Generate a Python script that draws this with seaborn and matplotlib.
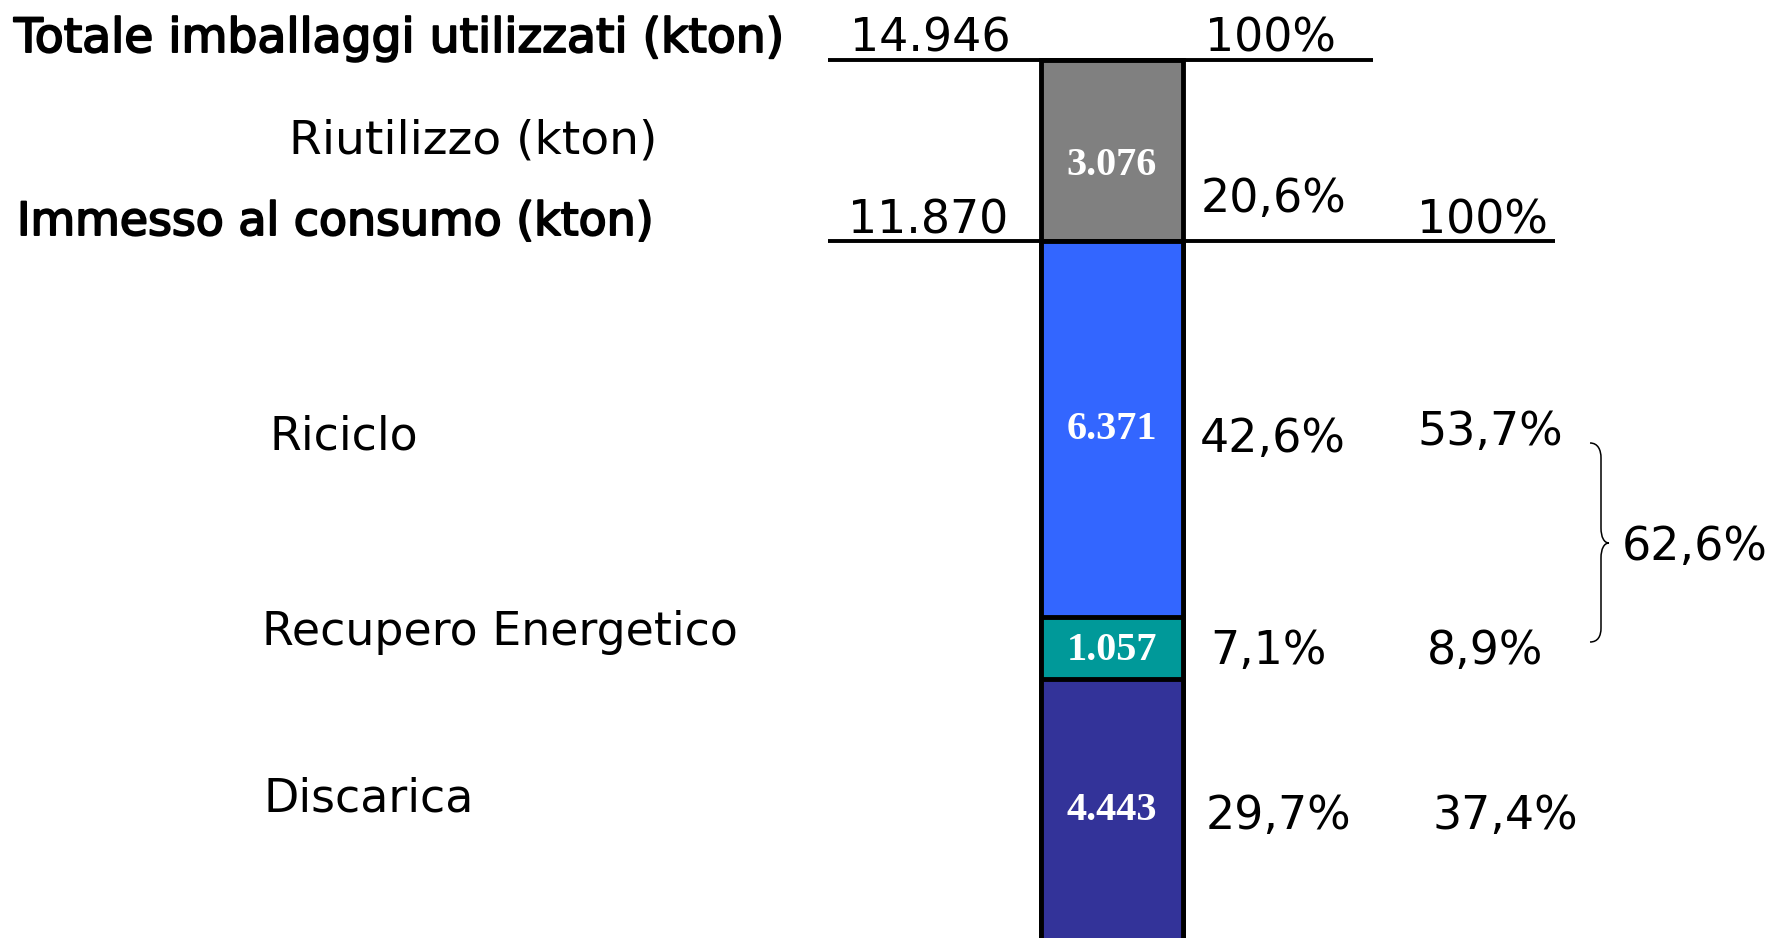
import numpy as np
import pandas as pd
import matplotlib
matplotlib.use("Agg")
import matplotlib.pyplot as plt
import matplotlib.patheffects as pe
from matplotlib.path import Path
from matplotlib.patches import PathPatch
import seaborn as sns

# ---------------------------------------------------------
# Data (kton) - segments listed from bottom to top of the column
# ---------------------------------------------------------
totale_kton = 14946
immesso_kton = 11870
totale_label = "14.946"
immesso_label = "11.870"

segments = ["Discarica", "Recupero Energetico", "Riciclo", "Riutilizzo"]
segment_kton = [4443, 1057, 6371, 3076]
segment_labels = ["4.443", "1.057", "6.371", "3.076"]
pct_totale = ["29,7%", "7,1%", "42,6%", "20,6%"]
pct_immesso = ["37,4%", "8,9%", "53,7%", None]
recupero_pct = "62,6%"
segment_colors = ["#333399", "#009999", "#3366ff", "#808080"]

# ---------------------------------------------------------
# Layout (pixels, origin top-left)
# ---------------------------------------------------------
W, H = 1772, 938
TOP_PX = 60            # where the total sits
BAR_CX, BAR_W = 1112, 142
FS = 33

sns.set_theme(style="white")
plt.rcParams["font.family"] = ["DejaVu Sans"]

fig = plt.figure(figsize=(W / 100, H / 100), dpi=100)
ax = fig.add_axes([0, 0, 1, 1])

# stacked column drawn as overlapping cumulative bars (largest first)
cum = np.cumsum(segment_kton)
df = pd.DataFrame({"voce": ["Imballaggi"] * len(segments),
                   "segmento": segments, "cumulato": cum})
order = segments[::-1]
sns.barplot(data=df, x="voce", y="cumulato", hue="segmento", hue_order=order,
            palette=dict(zip(segments, segment_colors)), dodge=False,
            saturation=1, errorbar=None, width=0.8, edgecolor="black",
            linewidth=3.5, legend=False, ax=ax)

# map the axes so that the column lands where it does in the picture
unit = BAR_W / 0.8
x0 = -BAR_CX / unit
ax.set_xlim(x0, x0 + W / unit)
ybot = 50
f = TOP_PX / H
ytop = (totale_kton - f * ybot) / (1 - f)
ax.set_ylim(ybot, ytop)
ax.axis("off")


def fx(x):
    return x / W


def fy(y):
    return 1 - y / H


def ypx(v):
    return (ytop - v) / (ytop - ybot) * H


# reference lines for the two totals
ax.hlines(totale_kton, fx(828), fx(1373), transform=ax.get_yaxis_transform(),
          color="black", linewidth=2.8, zorder=5)
ax.hlines(immesso_kton, fx(828), fx(1555), transform=ax.get_yaxis_transform(),
          color="black", linewidth=2.8, zorder=5)

bold = [pe.withStroke(linewidth=1.4, foreground="black")]


def txt(s, x, y, ha="left", effects=None, size=FS):
    fig.text(fx(x), fy(y), s, ha=ha, va="baseline", fontsize=size,
             color="black", path_effects=effects)


# row captions
txt("Totale imballaggi utilizzati (kton)", 14, 52, effects=bold, size=34)
txt("Riutilizzo (kton)", 289, 154, size=34)
txt("Immesso al consumo (kton)", 17, 235, effects=bold)
caption_pos = {"Riciclo": (269, 449), "Recupero Energetico": (262, 645),
               "Discarica": (263, 811)}
for name, (x, y) in caption_pos.items():
    txt(name, x, y)

# totals
txt(totale_label, 930, 52, ha="center")
txt(immesso_label, 928, 233, ha="center")
txt("100%", 1270, 52, ha="center")
txt("100%", 1482, 233, ha="center")

# percentages
col1_pos = {"Discarica": (1278, 829), "Recupero Energetico": (1268, 664),
            "Riciclo": (1273, 452), "Riutilizzo": (1273, 212)}
col2_pos = {"Discarica": (1505, 829), "Recupero Energetico": (1485, 664),
            "Riciclo": (1490, 445)}
for name, p1, p2 in zip(segments, pct_totale, pct_immesso):
    x, y = col1_pos[name]
    txt(p1, x, y, ha="center")
    if p2 is not None:
        x, y = col2_pos[name]
        txt(p2, x, y, ha="center")

# values inside the column
label_dy = {"Riutilizzo": 15, "Recupero Energetico": 3}
for name, lab, top, seg in zip(segments, segment_labels, cum, segment_kton):
    y = ypx(top - seg / 2) + label_dy.get(name, 0)
    fig.text(fx(BAR_CX), fy(y), lab, ha="center", va="center", fontsize=29,
             color="white", fontweight="bold", family=["Liberation Serif", "DejaVu Serif"])

# curly brace grouping riciclo + recupero energetico
pts = [(1590, 443), (1598, 443), (1601, 450), (1601, 458),
       (1601, 528),
       (1601, 537), (1604, 543), (1609, 543),
       (1604, 543), (1601, 549), (1601, 558),
       (1601, 628),
       (1601, 636), (1598, 642), (1590, 642)]
codes = [Path.MOVETO, Path.CURVE4, Path.CURVE4, Path.CURVE4,
         Path.LINETO,
         Path.CURVE4, Path.CURVE4, Path.CURVE4,
         Path.CURVE4, Path.CURVE4, Path.CURVE4,
         Path.LINETO,
         Path.CURVE4, Path.CURVE4, Path.CURVE4]
brace = Path([(fx(x), fy(y)) for x, y in pts], codes)
fig.add_artist(PathPatch(brace, transform=fig.transFigure, fill=False,
                         edgecolor="black", linewidth=1.1))
txt(recupero_pct, 1695, 560, ha="center")

fig.savefig("out.png", dpi=100)
